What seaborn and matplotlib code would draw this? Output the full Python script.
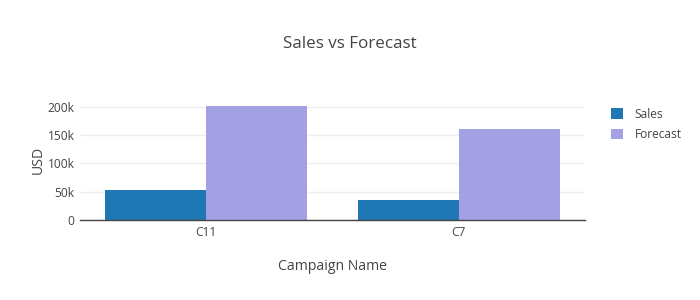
import matplotlib
matplotlib.use("Agg")
import matplotlib.pyplot as plt
import seaborn as sns
import pandas as pd
from matplotlib.ticker import FuncFormatter
from matplotlib.patches import Patch

campaigns = ["C11", "C7"]
sales = [53000, 34500]
forecast = [201000, 161000]
series_names = ["Sales", "Forecast"]
colors = ["#1f77b4", "#a3a1e3"]

df = pd.DataFrame({
    "Campaign Name": campaigns * 2,
    "value": sales + forecast,
    "series": [series_names[0]] * len(campaigns) + [series_names[1]] * len(campaigns),
})

sns.set_style("white")
plt.rcParams['font.family'] = ['Open Sans', 'DejaVu Sans']
txt = "#444444"

fig = plt.figure(figsize=(7, 3), dpi=100)
ax = fig.add_axes([80/700, 80/300, 505/700, 120/300])

sns.barplot(data=df, x="Campaign Name", y="value", hue="series",
            palette=colors, width=0.8, ax=ax, legend=False,
            saturation=1, linewidth=0)

ax.set_xlim(-0.5, 1.5)
ax.set_ylim(0, 211600)
ax.set_yticks([0, 50000, 100000, 150000, 200000])
ax.yaxis.set_major_formatter(FuncFormatter(lambda v, p: "0" if v == 0 else f"{int(v/1000)}k"))
ax.grid(axis="y", color="#eeeeee", linewidth=1)
ax.set_axisbelow(True)
for s in ["top", "right", "left"]:
    ax.spines[s].set_visible(False)
ax.spines["bottom"].set_color("#444444")
ax.spines["bottom"].set_linewidth(1)
ax.tick_params(axis="both", length=0, labelsize=8.64, colors=txt, pad=4)
ax.set_xlabel("")
ax.set_ylabel("")

fig.text(350/700, 1 - 44/300, "Sales vs Forecast", ha="center", va="center", fontsize=12.24, color=txt)
fig.text(332/700, 1 - 267/300, "Campaign Name", ha="center", va="center", fontsize=10.08, color=txt)
fig.text(38/700, 1 - 160/300, "USD", ha="center", va="center", rotation=90, fontsize=10.08, color=txt)

handles = [Patch(facecolor=c, edgecolor="none") for c in colors]
fig.legend(handles, series_names, loc="upper left", bbox_to_anchor=(600/700, 1 - 97/300),
           frameon=False, fontsize=8.64, labelcolor=txt, handlelength=1.0, handleheight=1.0,
           handletextpad=1.0, labelspacing=0.6)

fig.savefig("out.png", dpi=100)
